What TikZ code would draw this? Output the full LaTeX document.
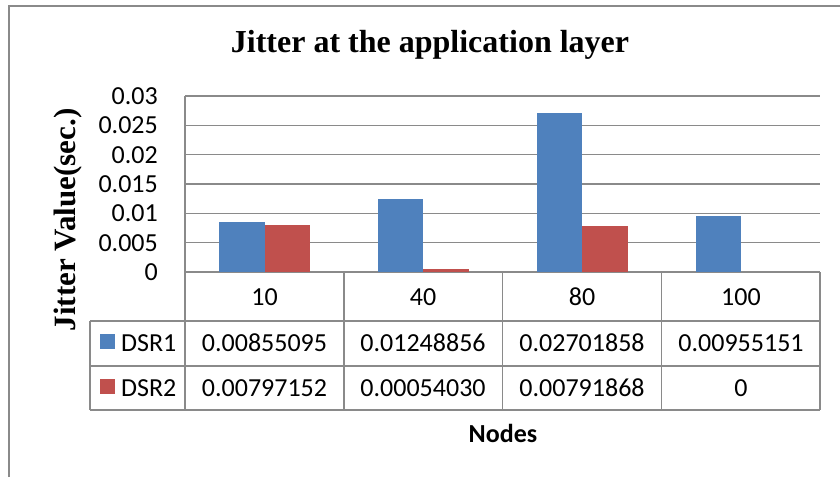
\documentclass[tikz,border=0pt]{standalone}
\usepackage{fontspec}
\setmainfont{Liberation Serif}
\setsansfont{Carlito}
\definecolor{dsrblue}{HTML}{4F81BD}
\definecolor{dsrred}{HTML}{C0504D}
\definecolor{rulegray}{HTML}{8A8A8A}
\tikzset{
  cell/.style={font=\sffamily\fontsize{26}{30}\selectfont, inner sep=0pt},
  tick/.style={cell, anchor=east},
  rule/.style={draw=rulegray, line width=1.6pt},
}
\begin{document}
\begin{tikzpicture}[x=1pt, y=-1pt]
    \useasboundingbox (0,0) rectangle (840,477);
    % frame
    \draw [rulegray, line width=2pt] (9,477) -- (9,6) -- (840,6);
    \node (title) at (430,45) {\fontsize{32}{36}\selectfont\bfseries Jitter at the application layer};
    \node [rotate=90] (ylabel) at (68,220) {\fontsize{31}{36}\selectfont\bfseries Jitter Value(sec.)};
    % grid and ticks
    \foreach \i/\lab in {0/0, 1/0.005, 2/0.01, 3/0.015, 4/0.02, 5/0.025, 6/0.03} {
        \draw [rule] (185,272-29.33*\i) -- (820,272-29.33*\i);
        \node [tick] (tick\i) at (158,272-29.33*\i) {\lab};
    }
    % bars
    \foreach \c/\a/\b in {264.5/0.00855095/0.00797152, 423/0.01248856/0.00054030,
                          582/0.02701858/0.00791868} {
        \fill [dsrblue] (\c-45.5,272) rectangle (\c,272-5866.7*\a);
        \fill [dsrred] (\c,272) rectangle (\c+45.5,272-5866.7*\b);
    }
    \fill [dsrblue] (741-45.5,272) rectangle (741,272-5866.7*0.00955151);
    % table
    \draw [rule] (185,96) -- (185,410);
    \foreach \x in {344, 502.5, 661.5, 820}
        \draw [rule] (\x,272) -- (\x,410);
    \draw [rule] (90,321) -- (90,410);
    \foreach \y in {321, 366, 410}
        \draw [rule] (90,\y) -- (820,\y);
    \fill [dsrblue] (100,334) rectangle (115,349);
    \fill [dsrred] (100,379) rectangle (115,394);
    \node [cell, anchor=west] (dsr1) at (121,343) {DSR1};
    \node [cell, anchor=west] (dsr2) at (121,388) {DSR2};
    \node [cell] (cat1) at (264.5,297) {10};
    \node [cell] (cat2) at (423,297) {40};
    \node [cell] (cat3) at (582,297) {80};
    \node [cell] (cat4) at (741,297) {100};
    \node [cell] (a1) at (264.5,343) {0.00855095};
    \node [cell] (a2) at (423,343) {0.01248856};
    \node [cell] (a3) at (582,343) {0.02701858};
    \node [cell] (a4) at (741,343) {0.00955151};
    \node [cell] (b1) at (264.5,388) {0.00797152};
    \node [cell] (b2) at (423,388) {0.00054030};
    \node [cell] (b3) at (582,388) {0.00791868};
    \node [cell] (b4) at (741,388) {0};
    \node [cell] (xlabel) at (503,433) {\bfseries Nodes};
\end{tikzpicture}
\end{document}
